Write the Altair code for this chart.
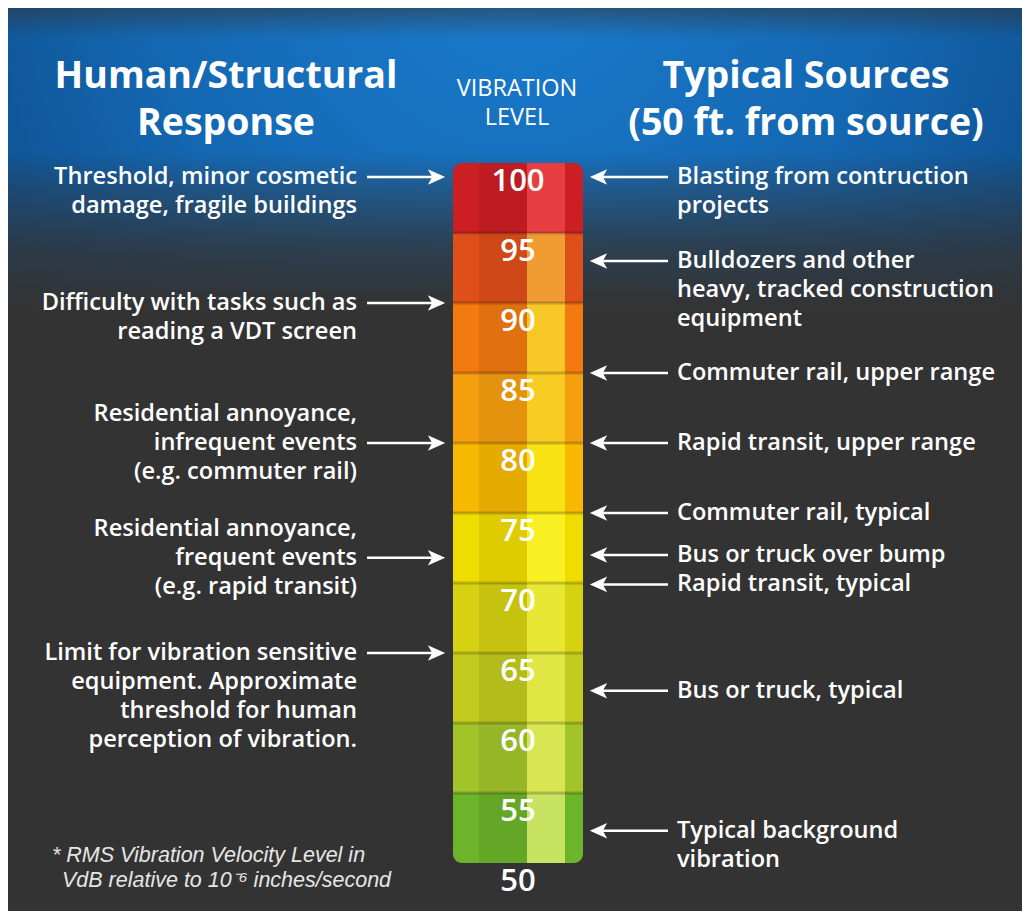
import altair as alt
import pandas as pd

# ---------------- data ----------------
seg_levels = [100, 95, 90, 85, 80, 75, 70, 65, 60, 55]
scale_labels = [100, 95, 90, 85, 80, 75, 70, 65, 60, 55, 50]

left_texts = [
    "Threshold, minor cosmetic\ndamage, fragile buildings",
    "Difficulty with tasks such as\nreading a VDT screen",
    "Residential annoyance,\ninfrequent events\n(e.g. commuter rail)",
    "Residential annoyance,\nfrequent events\n(e.g. rapid transit)",
    "Limit for vibration sensitive\nequipment. Approximate\nthreshold for human\nperception of vibration.",
]
left_levels = [99, 90, 80, 71.8, 65]
left_arrow_line = [0, 0, 1, 1, 0]

right_texts = [
    "Blasting from contruction\nprojects",
    "Bulldozers and other\nheavy, tracked construction\nequipment",
    "Commuter rail, upper range",
    "Rapid transit, upper range",
    "Commuter rail, typical",
    "Bus or truck over bump",
    "Rapid transit, typical",
    "Bus or truck, typical",
    "Typical background\nvibration",
]
right_levels = [99, 93, 85, 80, 75, 72.0, 69.9, 62.3, 52.3]
right_arrow_line = [0, 0, 0, 0, 0, 0, 0, 0, 0]

header_left = ["Human/Structural", "Response"]
header_mid = ["VIBRATION", "LEVEL"]
header_right = ["Typical Sources", "(50 ft. from source)"]
footnote = ["* RMS Vibration Velocity Level in", "VdB relative to 10\u207b\u2076 inches/second"]

# ---------------- styles ----------------
seg_base = ["#cc1f24", "#df4f1a", "#f27a10", "#f59f0e", "#f7b900", "#efdc00",
            "#d6d212", "#c2cb1e", "#a2c42a", "#6cb42a"]
seg_light = ["#e73e42", "#f09c32", "#f8c828", "#f8cc22", "#f8e214", "#f8f022",
             "#e8e834", "#e0e644", "#d8e652", "#c8e262"]

W, H = 1014, 903
PX_PER_DB = 14.0
Y100 = 155.0
LINE_PX = 29.0
dom_top = 100 + Y100 / PX_PER_DB
dom_bot = 100 - (H - Y100) / PX_PER_DB
yscale = alt.Scale(domain=[dom_bot, dom_top], nice=False, zero=False)

FONT = "Open Sans"
one = pd.DataFrame({"k": [0]})

def Y(field):
    return alt.Y(field, type="quantitative", scale=yscale, axis=None)

layers = []

# header background (blue burst)
radial = {
    "gradient": "radial", "x1": 0.5, "y1": 0.3, "x2": 0.5, "y2": 0.3, "r1": 0, "r2": 0.75,
    "stops": [
        {"offset": 0, "color": "#1a7dd0"},
        {"offset": 0.5, "color": "#1466b0"},
        {"offset": 1, "color": "#0a4077"},
    ],
}
layers.append(alt.Chart(one).mark_rect(color=radial).encode(
    x=alt.value(0), x2=alt.value(W), y=alt.value(0), y2=alt.value(300)))
fade = {
    "gradient": "linear", "x1": 0, "y1": 0, "x2": 0, "y2": 1,
    "stops": [
        {"offset": 0, "color": "rgba(51,51,51,0.5)"},
        {"offset": 0.1, "color": "rgba(51,51,51,0.0)"},
        {"offset": 0.48, "color": "rgba(51,51,51,0.0)"},
        {"offset": 0.6, "color": "rgba(51,51,51,0.35)"},
        {"offset": 0.8, "color": "rgba(51,51,51,0.78)"},
        {"offset": 1, "color": "rgba(51,51,51,1)"},
    ],
}
layers.append(alt.Chart(one).mark_rect(color=fade).encode(
    x=alt.value(0), x2=alt.value(W), y=alt.value(0), y2=alt.value(301)))

# thermometer bar
seg = pd.DataFrame({"level": seg_levels, "bottom": [v - 5 for v in seg_levels]})
base_color = alt.Color("level:O", scale=alt.Scale(domain=seg_levels, range=seg_base), legend=None)
BX0, BX1 = 445, 575
bar_layers = []
bar_layers.append(alt.Chart(seg).transform_filter("datum.level == 100").mark_rect(
    cornerRadiusTopLeft=9, cornerRadiusTopRight=9).encode(
    x=alt.value(BX0), x2=alt.value(BX1), y=Y("level"), y2="bottom", color=base_color))
bar_layers.append(alt.Chart(seg).transform_filter("datum.level < 100 && datum.level > 55").mark_rect().encode(
    x=alt.value(BX0), x2=alt.value(BX1), y=Y("level"), y2="bottom", color=base_color))
bar_layers.append(alt.Chart(seg).transform_filter("datum.level == 55").mark_rect(
    cornerRadiusBottomLeft=9, cornerRadiusBottomRight=9).encode(
    x=alt.value(BX0), x2=alt.value(BX1), y=Y("level"), y2="bottom", color=base_color))
bar_base = alt.layer(*bar_layers)

light_color = alt.Color("level:O", scale=alt.Scale(domain=seg_levels, range=seg_light), legend=None)
bar_light = alt.Chart(seg).mark_rect().encode(
    x=alt.value(519), x2=alt.value(557), y=Y("level"), y2="bottom", color=light_color)

layers.append(bar_base)
layers.append(alt.Chart(seg).mark_rect(color="black", opacity=0.07).encode(
    x=alt.value(471), x2=alt.value(519), y=Y("level"), y2="bottom"))
layers.append(bar_light)
sep = pd.DataFrame({"level": seg_levels[1:]})
layers.append(alt.Chart(sep).mark_rule(color="black", opacity=0.2, strokeWidth=3).encode(
    x=alt.value(BX0), x2=alt.value(BX1), y=Y("level")))

# scale labels
lab = pd.DataFrame({"level": scale_labels, "t": [str(v) for v in scale_labels]})
layers.append(alt.Chart(lab).mark_text(
    dy=19, fontSize=31, font=FONT, fontWeight=600, color="white", align="center", baseline="middle"
).encode(x=alt.value(510), y=Y("level"), text="t:N"))

# arrows
la = pd.DataFrame({"level": left_levels})
ra = pd.DataFrame({"level": right_levels})
layers.append(alt.Chart(la).mark_rule(color="white", strokeWidth=2.5).encode(
    x=alt.value(359), x2=alt.value(428), y=Y("level")))
layers.append(alt.Chart(la).mark_point(
    shape="M1,0 L-1,-0.9 L-0.5,0 L-1,0.9 Z", filled=True, size=300, color="white", opacity=1
).encode(x=alt.value(428.5), y=Y("level")))
layers.append(alt.Chart(ra).mark_rule(color="white", strokeWidth=2.5).encode(
    x=alt.value(592), x2=alt.value(660), y=Y("level")))
layers.append(alt.Chart(ra).mark_point(
    shape="M-1,0 L1,-0.9 L0.5,0 L1,0.9 Z", filled=True, size=300, color="white", opacity=1
).encode(x=alt.value(590.5), y=Y("level")))

# annotation text lines
def lines(texts, lvls, arrow_line):
    rows = []
    for txt, lv, al in zip(texts, lvls, arrow_line):
        for i, ln in enumerate(txt.split("\n")):
            rows.append({"t": ln, "level": lv - (i - al) * LINE_PX / PX_PER_DB})
    return pd.DataFrame(rows)

layers.append(alt.Chart(lines(left_texts, left_levels, left_arrow_line)).mark_text(
    fontSize=23.6, font=FONT, fontWeight=600, color="white", align="right", baseline="middle"
).encode(x=alt.value(349), y=Y("level"), text="t:N"))
layers.append(alt.Chart(lines(right_texts, right_levels, right_arrow_line)).mark_text(
    fontSize=23.6, font=FONT, fontWeight=600, color="white", align="left", baseline="middle"
).encode(x=alt.value(669), y=Y("level"), text="t:N"))

# headers
def head(text, x, y, size, weight, align="center", font=FONT, style="normal", color="white"):
    return alt.Chart(pd.DataFrame({"t": [text]})).mark_text(
        fontSize=size, font=font, fontWeight=weight, fontStyle=style, color=color,
        align=align, baseline="alphabetic"
    ).encode(x=alt.value(x), y=alt.value(y), text="t:N")

layers.append(head(header_left[0], 218, 80, 37.5, "bold"))
layers.append(head(header_left[1], 218, 127, 37.5, "bold"))
layers.append(head(header_right[0], 798, 80, 37.5, "bold"))
layers.append(head(header_right[1], 798, 127, 37.5, "bold"))
layers.append(head(header_mid[0], 509, 88, 23.5, "normal"))
layers.append(head(header_mid[1], 509, 117, 23.5, "normal"))
layers.append(head(footnote[0], 44, 854, 21.5, "normal", align="left",
                   font="Liberation Sans", style="italic", color="#e6e6e6"))
layers.append(head(footnote[1], 54, 879, 21.5, "normal", align="left",
                   font="Liberation Sans", style="italic", color="#e6e6e6"))

chart = alt.layer(*layers).resolve_scale(color="independent").properties(
    width=W, height=H,
    autosize=alt.AutoSizeParams(type="none"),
    padding=0,
    background="#333333",
).configure_view(stroke=None)

chart.save("out.html", embed_options={"renderer": "svg", "actions": False})
